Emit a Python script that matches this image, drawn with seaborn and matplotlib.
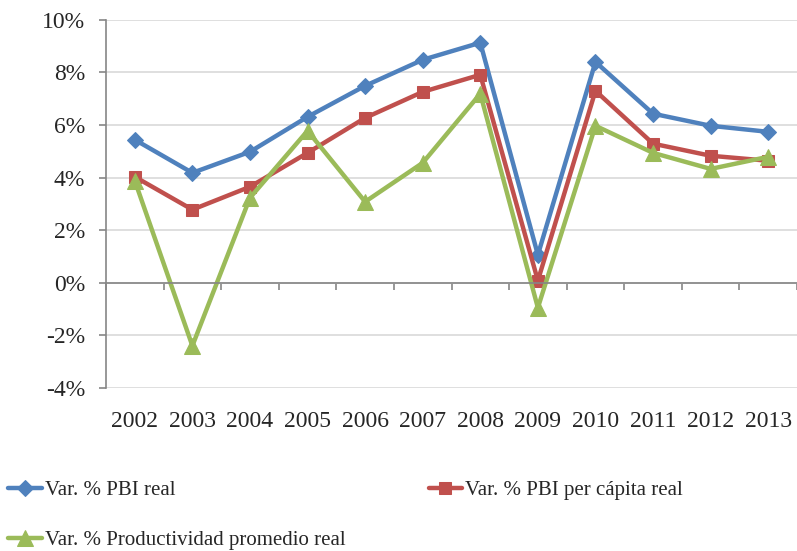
import numpy as np
import pandas as pd
import matplotlib
matplotlib.use("Agg")
import matplotlib.pyplot as plt
import seaborn as sns
from matplotlib.ticker import FuncFormatter, MultipleLocator

years = ["2002", "2003", "2004", "2005", "2006", "2007",
         "2008", "2009", "2010", "2011", "2012", "2013"]
pbi_real = [5.44, 4.18, 4.98, 6.31, 7.49, 8.48, 9.13, 1.06, 8.40, 6.43, 5.97, 5.74]
pbi_percapita = [4.03, 2.78, 3.65, 4.94, 6.27, 7.26, 7.91, 0.08, 7.30, 5.29, 4.83, 4.64]
productividad = [3.88, -2.40, 3.23, 5.78, 3.08, 4.56, 7.19, -0.95, 5.97, 4.94, 4.33, 4.79]

series_names = ["Var. % PBI real", "Var. % PBI per cápita real",
                "Var. % Productividad promedio real"]
colors = ["#4F81BD", "#C0504D", "#9BBB59"]
markers = ["D", "s", "^"]
msizes = [8, 9, 11]

df = pd.DataFrame({
    "x": np.tile(np.arange(len(years)), 3),
    "valor": pbi_real + pbi_percapita + productividad,
    "serie": np.repeat(series_names, len(years)),
})

sns.set_style("white")
plt.rcParams["font.family"] = ["Liberation Serif", "DejaVu Serif"]

fig = plt.figure(figsize=(7.97, 5.51), dpi=100)
ax = fig.add_axes([0.133, 0.296, 0.867, 0.668])

for name, col, mk, ms in zip(series_names, colors, markers, msizes):
    sub = df[df["serie"] == name]
    sns.lineplot(data=sub, x="x", y="valor", ax=ax, color=col, marker=mk,
                 markersize=ms, markeredgecolor=col, linewidth=3.2,
                 label=name, legend=False)

ax.set_xlim(-0.5, len(years) - 0.5)
ax.set_ylim(-4, 10)
ax.yaxis.set_major_locator(MultipleLocator(2))
ax.yaxis.set_major_formatter(FuncFormatter(lambda v, p: f"{v:.0f}%"))
ax.grid(axis="y", color="#D9D9D9", linewidth=1.2)
ax.set_axisbelow(True)

for s in ["top", "right"]:
    ax.spines[s].set_visible(False)
ax.spines["left"].set_color("#868686")
ax.spines["left"].set_linewidth(1.2)
ax.spines["bottom"].set_position(("data", 0))
ax.spines["bottom"].set_color("#868686")
ax.spines["bottom"].set_linewidth(1.2)

ax.set_xticks(np.arange(len(years)))
ax.set_xticklabels(years)
ax.set_xticks(np.arange(len(years) + 1) - 0.5, minor=True)
ax.tick_params(axis="x", which="major", bottom=True, length=0, pad=92,
               labelsize=17)
ax.tick_params(axis="x", which="minor", bottom=True, length=5, width=1.2,
               color="#868686", direction="out")
ax.tick_params(axis="y", length=5, width=1.2, color="#868686", labelsize=17,
               left=True, pad=10)
ax.set_xlabel("")
ax.set_ylabel("")

handles, labels = ax.get_legend_handles_labels()
order = [0, 2, 1]
fig.legend([handles[i] for i in order], [labels[i] for i in order],
           loc="upper left", bbox_to_anchor=(0.0, 0.143), ncol=2, frameon=False,
           fontsize=15, handlelength=1.6, handletextpad=0.15,
           columnspacing=4.0, labelspacing=1.45, borderaxespad=0)

fig.savefig("out.png", dpi=100)
